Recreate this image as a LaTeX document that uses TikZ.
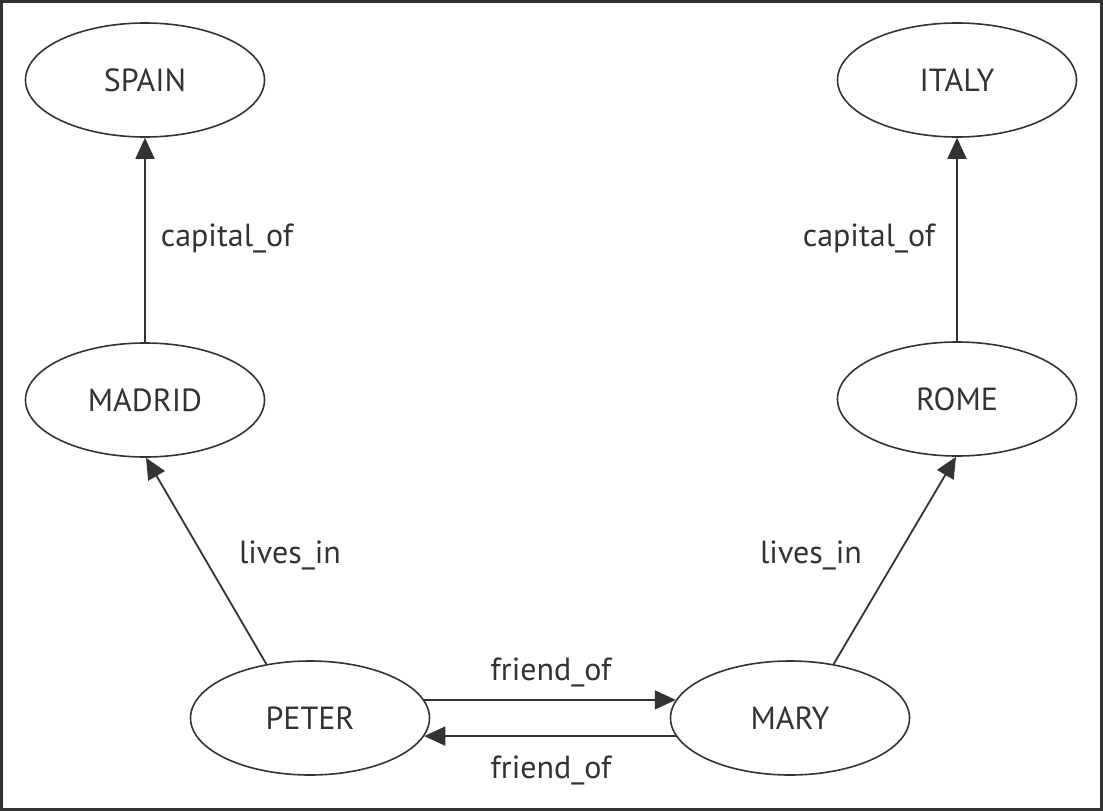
\documentclass[tikz,border=0pt]{standalone}
\usepackage{fontspec}
\setmainfont{PT Sans}
\usetikzlibrary{shapes.geometric,arrows.meta}
\definecolor{ink}{HTML}{333333}
\tikzset{
  ent/.style={draw=ink, line width=1.6pt, ellipse, minimum width=239pt, minimum height=114pt, inner sep=0pt, text=ink, font=\fontsize{32}{38}\selectfont},
  rel/.style={draw=ink, line width=1.8pt, -{Triangle[length=21pt,width=19pt]}},
  lab/.style={text=ink, font=\fontsize{32}{38}\selectfont, inner sep=0pt}
}
\begin{document}
\begin{tikzpicture}[x=1pt,y=-1pt]
\useasboundingbox (0,0) rectangle (1103,811);
\draw[draw=ink, line width=3pt] (1.5,1.5) rectangle (1101.5,809.5);
\node[ent] (spain) at (145,80) {SPAIN};
\node[ent] (italy) at (957,80) {ITALY};
\node[ent] (madrid) at (145,400) {MADRID};
\node[ent] (rome) at (957,399) {ROME};
\node[ent] (peter) at (310,718) {PETER};
\node[ent] (mary) at (790,718) {MARY};
\draw[rel] (madrid.north) -- (spain.south);
\draw[rel] (rome.north) -- (italy.south);
\draw[rel] (peter.129) -- (madrid.-89);
\draw[rel] (mary.51) -- (rome.-91);
\draw[rel] (peter.9) -- (mary.171);
\draw[rel] (mary.189) -- (peter.-9);
\node[lab] (l1) at (227,238) {capital\_of};
\node[lab] (l2) at (869,238) {capital\_of};
\node[lab] (l3) at (290,555) {lives\_in};
\node[lab] (l4) at (811,555) {lives\_in};
\node[lab] (l5) at (551,672) {friend\_of};
\node[lab] (l6) at (551,770) {friend\_of};
\end{tikzpicture}
\end{document}
